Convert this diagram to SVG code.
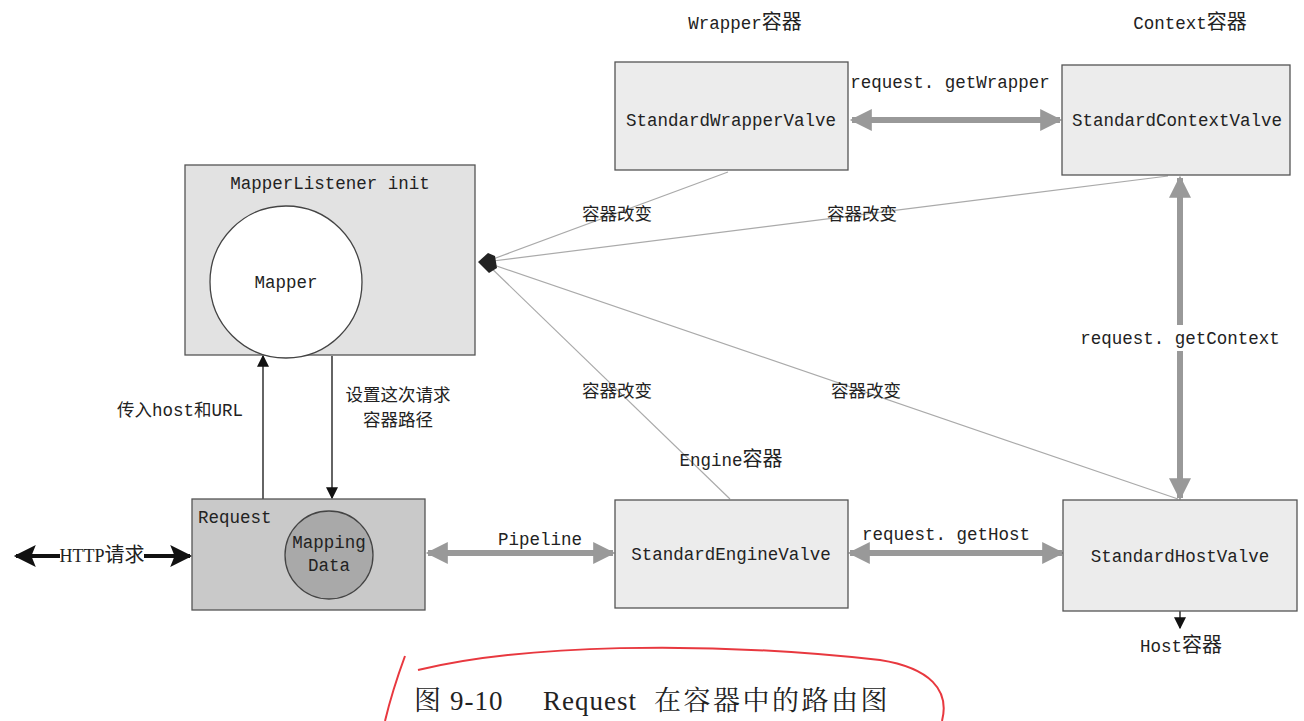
<svg xmlns="http://www.w3.org/2000/svg" width="1304" height="721" viewBox="0 0 1304 721">
<defs>
<style>
.t{font-family:"Liberation Mono","Noto Sans CJK SC",monospace;font-size:17.5px;fill:#222;text-anchor:middle}
.c{font-size:20px}
.box{fill:#ececec;stroke:#555;stroke-width:1.3}
.thin{stroke:#aaa;stroke-width:1.2;fill:none}
.thick{stroke:#999;stroke-width:6;fill:none}
.blk{stroke:#111;stroke-width:1.3;fill:none}
.cap{font-family:"Liberation Serif","Noto Serif CJK SC","Noto Sans CJK SC",serif;font-size:27px;fill:#222}
</style>
<marker id="ga" viewBox="0 0 10 10" refX="9" refY="5" markerWidth="24" markerHeight="22" markerUnits="userSpaceOnUse" orient="auto-start-reverse"><path d="M0,0L10,5L0,10Z" fill="#999"/></marker>
<marker id="ba" viewBox="0 0 10 10" refX="9" refY="5" markerWidth="12" markerHeight="12" markerUnits="userSpaceOnUse" orient="auto"><path d="M0,0L10,5L0,10Z" fill="#111"/></marker>
<marker id="hb" viewBox="0 0 10 10" refX="9" refY="5" markerWidth="26" markerHeight="22" markerUnits="userSpaceOnUse" orient="auto-start-reverse"><path d="M0,0L10,5L0,10L2,5Z" fill="#111"/></marker>
</defs>
<rect width="1304" height="721" fill="#fff"/>

<g id="connectors">
<line class="thin" x1="485" y1="262" x2="728" y2="172"/>
<line class="thin" x1="485" y1="262" x2="1168" y2="176"/>
<line class="thin" x1="485" y1="262" x2="730" y2="499"/>
<line class="thin" x1="485" y1="262" x2="1178" y2="499"/>
<polygon points="478,262 488,253 495,256 497,268 489,273" fill="#222"/>
<line class="thick" x1="852" y1="120" x2="1060" y2="120" marker-start="url(#ga)" marker-end="url(#ga)"/>
<line class="thick" x1="1180" y1="178" x2="1180" y2="498" marker-start="url(#ga)" marker-end="url(#ga)"/>
<line class="thick" x1="428" y1="553" x2="613" y2="553" marker-start="url(#ga)" marker-end="url(#ga)"/>
<line class="thick" x1="850" y1="553" x2="1062" y2="553" marker-start="url(#ga)" marker-end="url(#ga)"/>
<line class="blk" x1="263" y1="499" x2="263" y2="356" marker-end="url(#ba)"/>
<line class="blk" x1="332" y1="356" x2="332" y2="498" marker-end="url(#ba)"/>
<line class="blk" x1="1180" y1="611" x2="1180" y2="628" marker-end="url(#ba)"/>
<line x1="16" y1="556" x2="190" y2="556" stroke="#111" stroke-width="4" marker-start="url(#hb)" marker-end="url(#hb)"/>
<rect x="60" y="544" width="84" height="24" fill="#fff"/>
<text class="t" x="102" y="562" style="font-family:'Liberation Serif','Noto Sans CJK SC',serif;font-size:18px">HTTP<tspan class="c">请求</tspan></text>
<text class="t" x="617" y="220">容器改变</text>
<text class="t" x="862" y="220">容器改变</text>
<text class="t" x="617" y="397">容器改变</text>
<text class="t" x="866" y="397">容器改变</text>
<text class="t" x="950" y="88">request. getWrapper</text>
<rect x="1082" y="325" width="196" height="26" fill="#fff"/>
<text class="t" x="1180" y="344">request. getContext</text>
<text class="t" x="540" y="545">Pipeline</text>
<text class="t" x="946" y="540">request. getHost</text>
<text class="t" x="180" y="416">传入host和URL</text>
<text class="t" x="398" y="401">设置这次请求</text>
<text class="t" x="398" y="426">容器路径</text>
</g>

<g id="mapperListener">
<rect x="185" y="165" width="290" height="190" fill="#e2e2e2" stroke="#555" stroke-width="1.3"/>
<text class="t" x="330" y="189">MapperListener init</text>
</g>
<g id="mapper">
<circle cx="286" cy="282" r="76" fill="#fff" stroke="#444" stroke-width="1.3"/>
<text class="t" x="286" y="288">Mapper</text>
</g>
<g id="request">
<rect x="192" y="499" width="233" height="111" fill="#c9c9c9" stroke="#555" stroke-width="1.3"/>
<text class="t" x="198" y="523" style="text-anchor:start">Request</text>
</g>
<g id="mappingData">
<circle cx="329" cy="555" r="44" fill="#a9a9a9" stroke="#444" stroke-width="1.3"/>
<text class="t" x="329" y="548">Mapping</text>
<text class="t" x="329" y="571">Data</text>
</g>
<g id="wrapper">
<rect class="box" x="615" y="62" width="233" height="108"/>
<text class="t" x="731" y="126">StandardWrapperValve</text>
<text class="t" x="745" y="29">Wrapper<tspan class="c">容器</tspan></text>
</g>
<g id="context">
<rect class="box" x="1062" y="65" width="228" height="110"/>
<text class="t" x="1177" y="126">StandardContextValve</text>
<text class="t" x="1190" y="29">Context<tspan class="c">容器</tspan></text>
</g>
<g id="engine">
<rect class="box" x="615" y="500" width="233" height="108"/>
<text class="t" x="731" y="560">StandardEngineValve</text>
<text class="t" x="731" y="466">Engine<tspan class="c">容器</tspan></text>
</g>
<g id="host">
<rect class="box" x="1063" y="500" width="234" height="111"/>
<text class="t" x="1180" y="562">StandardHostValve</text>
<text class="t" x="1181" y="652">Host<tspan class="c">容器</tspan></text>
</g>

<g id="caption">
<path d="M418,670 C520,645 700,640 880,660 C930,668 950,690 942,721" fill="none" stroke="#e8383f" stroke-width="2"/>
<path d="M405,656 C398,675 390,700 385,721" fill="none" stroke="#e8383f" stroke-width="2"/>
<text class="cap" x="414" y="710">图</text>
<text class="cap" x="450" y="710" style="letter-spacing:1px">9-10</text>
<text class="cap" x="543" y="710" style="letter-spacing:1px">Request</text>
<text class="cap" x="654" y="710" style="letter-spacing:2.5px">在容器中的路由图</text>
</g>
</svg>
